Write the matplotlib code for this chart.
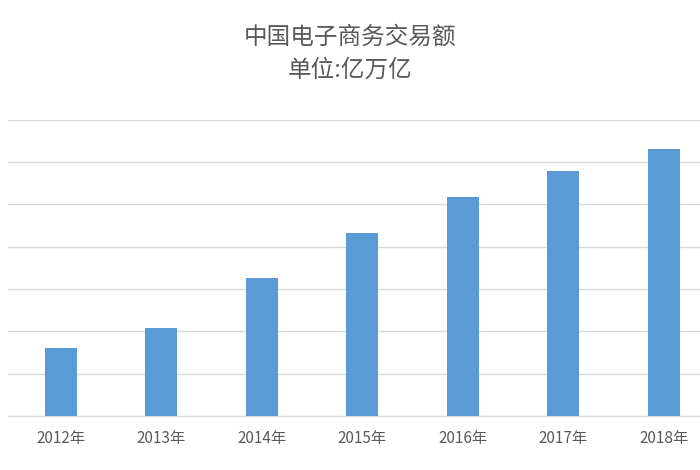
import matplotlib
matplotlib.use("Agg")
import matplotlib.pyplot as plt

plt.rcParams['font.family'] = ['Noto Sans CJK SC', 'DejaVu Sans']

years = ["2012年", "2013年", "2014年", "2015年", "2016年", "2017年", "2018年"]
values = [1.6, 2.07, 3.27, 4.33, 5.18, 5.8, 6.32]

fig = plt.figure(figsize=(7, 4.7), dpi=100)
ax = fig.add_axes([0.012, 0.115, 0.988, 0.63])
x = range(len(years))
ax.bar(x, values, width=0.32, color="#5b9bd5", zorder=3)
ax.set_xlim(-0.52, 6.36)
ax.set_ylim(0, 7)
ax.set_yticks(range(0, 8))
ax.yaxis.grid(True, color="#d9d9d9", linewidth=1, zorder=0)
ax.tick_params(axis='y', left=False, labelleft=False)
ax.tick_params(axis='x', length=0, labelsize=11, colors="#595959", pad=10)
ax.set_xticks(list(x))
ax.set_xticklabels(years)
for s in ["top", "left", "right"]:
    ax.spines[s].set_visible(False)
ax.spines["bottom"].set_color("#d9d9d9")
fig.text(0.5, 0.92, "中国电子商务交易额", ha="center", va="center", fontsize=17, color="#595959")
fig.text(0.5, 0.85, "单位:亿万亿", ha="center", va="center", fontsize=17, color="#595959")
fig.savefig("out.png")
